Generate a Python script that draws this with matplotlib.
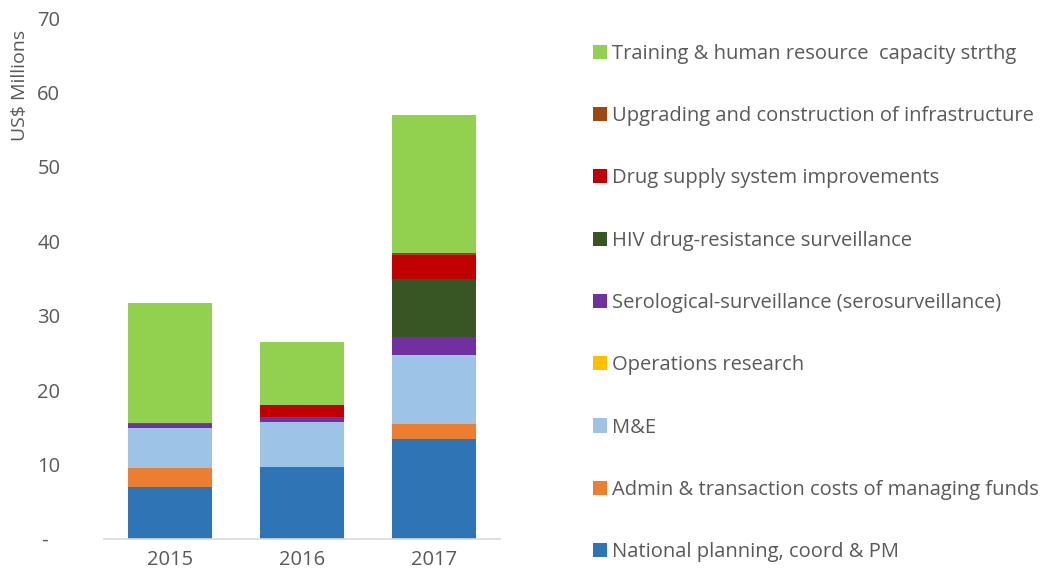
import numpy as np
import matplotlib
matplotlib.use("Agg")
import matplotlib.pyplot as plt
from matplotlib.patches import Patch

plt.rcParams['font.family'] = ['Open Sans', 'DejaVu Sans']

years = ['2015', '2016', '2017']
series = [
    'National planning, coord & PM',
    'Admin & transaction costs of managing funds',
    'M&E',
    'Operations research',
    'Serological-surveillance (serosurveillance)',
    'HIV drug-resistance surveillance',
    'Drug supply system improvements',
    'Upgrading and construction of infrastructure',
    'Training & human resource  capacity strthg',
]
national_planning = [6.95, 9.7, 13.4]
admin_costs = [2.65, 0.0, 2.0]
m_and_e = [5.3, 6.0, 9.3]
operations_research = [0.0, 0.0, 0.0]
serosurveillance = [0.55, 0.65, 2.4]
hiv_dr = [0.0, 0.0, 7.8]
drug_supply = [0.0, 1.65, 3.2]
infrastructure = [0.1, 0.05, 0.3]
training = [16.2, 8.4, 18.6]

colors = ['#2E75B6', '#ED7D31', '#9DC3E6', '#FFC000', '#7030A0',
          '#375623', '#C00000', '#9E480E', '#92D050']

values = [national_planning, admin_costs, m_and_e, operations_research,
          serosurveillance, hiv_dr, drug_supply, infrastructure, training]

fig = plt.figure(figsize=(10.54, 5.83), dpi=100)
ax = fig.add_axes([0.0987, 0.0755, 0.3757, 0.8935])

x = np.arange(len(years))
bottom = np.zeros(len(years))
for vals, col in zip(values, colors):
    ax.bar(x, vals, 0.64, bottom=bottom, color=col, linewidth=0)
    bottom += np.array(vals)

ax.set_xlim(-0.5, 2.5)
ax.set_ylim(0, 70)
ax.set_yticks(range(0, 80, 10))
ax.set_yticklabels([' -'] + [str(v) for v in range(10, 80, 10)])
ax.set_xticks(x)
ax.set_xticklabels(years)
ax.tick_params(axis='both', length=0, labelsize=14.5, colors='#595959', pad=8)
ax.tick_params(axis='y', pad=48)
for lbl in ax.get_yticklabels():
    lbl.set_horizontalalignment('left')
for s in ['top', 'right', 'left']:
    ax.spines[s].set_visible(False)
ax.spines['bottom'].set_color('#D9D9D9')
ax.spines['bottom'].set_linewidth(1.2)
ax.set_ylabel('US$ Millions', fontsize=14, color='#595959')
ax.yaxis.set_label_coords(-0.19, 0.87)

handles = [Patch(facecolor=c, edgecolor='none') for c in colors]
leg = fig.legend(handles[::-1], series[::-1], loc='upper left',
                 bbox_to_anchor=(0.545, 0.956), frameon=False,
                 fontsize=14.5, labelcolor='#595959', labelspacing=2.1,
                 handlelength=0.7, handleheight=0.7, handletextpad=0.25)

fig.savefig('out.png', dpi=100)
